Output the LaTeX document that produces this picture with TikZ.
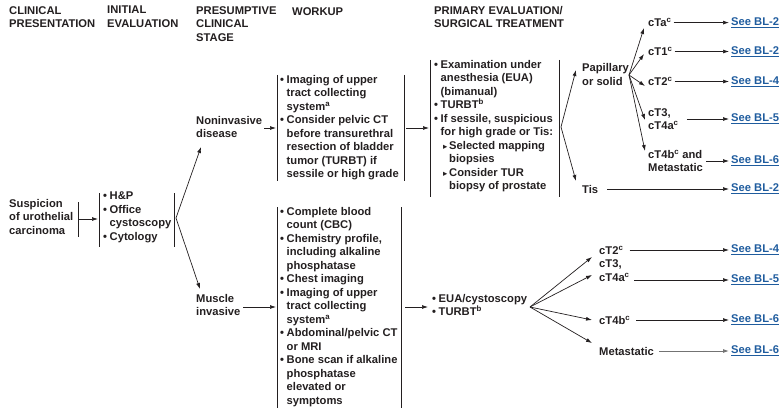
\documentclass[tikz,border=0pt]{standalone}
\usepackage{fontspec}
\setmainfont{Liberation Sans}
\newfontfamily\dejavu{DejaVu Sans}
\usetikzlibrary{arrows.meta}
\definecolor{ink}{HTML}{231F20}
\definecolor{lnk}{HTML}{1F5C9E}
\newcommand{\bu}{\makebox[6.5pt][l]{•}}
\newcommand{\ind}{\hspace*{6.5pt}}
\newcommand{\tri}{\hspace*{9pt}\makebox[6pt][l]{\raisebox{0.3pt}{\dejavu\fontsize{8.5}{8.5}\selectfont ▸}}}
\newcommand{\tind}{\hspace*{15pt}}
\newcommand{\lk}[1]{\underline{#1}}
\begin{document}
\begin{tikzpicture}[x=1pt,y=-1pt,
  font=\fontsize{11.2}{13.5}\selectfont\bfseries,
  every node/.style={text=ink},
  lbl/.style={anchor=north west, inner sep=0pt, align=left, execute at begin node=\strut},
  lw/.style={anchor=west, inner sep=0pt, align=left},
  seel/.style={anchor=west, inner sep=0pt, text=lnk},
  bar/.style={draw=ink, line width=0.8pt},
  arr/.style={draw=ink, line width=0.7pt, -{Latex[length=6pt,width=4pt]}},
  garr/.style={draw=black!55, line width=0.9pt, -{Latex[length=6pt,width=4pt]}}
]
\useasboundingbox (0,0) rectangle (780,412);

% headers
\node[lbl] (h1) at (9,6) {CLINICAL\\PRESENTATION};
\node[lbl] (h2) at (107,6) {INITIAL\\EVALUATION};
\node[lbl] (h3) at (196,6) {PRESUMPTIVE\\CLINICAL\\STAGE};
\node[lbl] (h4) at (292,6) {WORKUP};
\node[lbl] (h5) at (434,6) {PRIMARY EVALUATION/\\SURGICAL TREATMENT};

% left
\node[lbl] (susp) at (9,199) {Suspicion\\of urothelial\\carcinoma};
\draw[bar] (78,202) -- (78,237);
\coordinate (s-out) at (78,219);
\coordinate (init-in) at (98,219);
\draw[arr] (s-out) -- (init-in);
\draw[bar] (99,193) -- (99,247);
\node[lbl] (init) at (103,192) {\bu H\&P\\\bu Office\\\ind cystoscopy\\\bu Cytology};
\draw[bar] (174,193) -- (174,247);
\coordinate (br1) at (176,218);
\coordinate (nonin-in) at (201,147);
\coordinate (musc-in) at (200,289);
\draw[arr] (br1) -- (nonin-in);
\draw[arr] (br1) -- (musc-in);

% stages
\node[lbl] (nonin) at (196,116) {Noninvasive\\disease};
\node[lbl] (musc) at (196,294) {Muscle\\invasive};

% workup top
\coordinate (nonin-out) at (264,128);
\coordinate (wt-in) at (276,128);
\draw[arr] (nonin-out) -- (wt-in);
\draw[bar] (277,75) -- (277,181);
\node[lbl] (wtop) at (280,75) {\bu Imaging of upper\\\ind tract collecting\\\ind system\textsuperscript{a}\\\bu Consider pelvic CT\\\ind before transurethral\\\ind resection of bladder\\\ind tumor (TURBT) if\\\ind sessile or high grade};
\draw[bar] (404,75) -- (404,181);
\coordinate (wt-out) at (406,128);
\coordinate (pt-in) at (429,128);
\draw[arr] (wt-out) -- (pt-in);

% workup bottom
\coordinate (musc-out) at (243,307);
\coordinate (wb-in) at (276,307);
\draw[arr] (musc-out) -- (wb-in);
\draw[bar] (277,207) -- (277,408);
\node[lbl] (wbot) at (280,207) {\bu Complete blood\\\ind count (CBC)\\\bu Chemistry profile,\\\ind including alkaline\\\ind phosphatase\\\bu Chest imaging\\\bu Imaging of upper\\\ind tract collecting\\\ind system\textsuperscript{a}\\\bu Abdominal/pelvic CT\\\ind or MRI\\\bu Bone scan if alkaline\\\ind phosphatase\\\ind elevated or\\\ind symptoms};
\draw[bar] (401,207) -- (401,408);
\coordinate (wb-out) at (405,307);
\coordinate (eua-in) at (428,307);
\draw[arr] (wb-out) -- (eua-in);

% primary top
\draw[bar] (430,60) -- (430,197);
\node[lbl] (ptop) at (434,60) {\bu Examination under\\\ind anesthesia (EUA)\\\ind (bimanual)\\\bu TURBT\textsuperscript{b}\\\bu If sessile, suspicious\\\ind for high grade or Tis:\\\tri Selected mapping\\\tind biopsies\\\tri Consider TUR\\\tind biopsy of prostate};
\draw[bar] (559,60) -- (559,197);
\coordinate (br2) at (561,127);
\coordinate (pap-in) at (576,70);
\coordinate (tis-in) at (576,181);
\draw[arr] (br2) -- (pap-in);
\draw[arr] (br2) -- (tis-in);

\node[lbl] (pap) at (582,63.5) {Papillary\\or solid};
\node[lw] (tis) at (582,189) {Tis};

% cT nodes top
\node[lw] (cta) at (648,22.6) {cTa\textsuperscript{c}};
\node[lw] (ct1) at (648,51.5) {cT1\textsuperscript{c}};
\node[lw] (ct2) at (648,81.5) {cT2\textsuperscript{c}};
\node[lw] (ct3) at (648,119) {cT3,\\cT4a\textsuperscript{c}};
\node[lw] (ct4) at (648,161) {cT4b\textsuperscript{c} and\\Metastatic};

\coordinate (br3) at (629,75);
\coordinate (ta) at (644,28);
\coordinate (t1) at (644,54);
\coordinate (t2) at (645,86);
\coordinate (t3) at (645,120);
\coordinate (t4) at (645,151);
\foreach \t in {ta,t1,t2,t3,t4} \draw[arr] (br3) -- (\t);

\node[seel] (s1) at (731,22.6) {\lk{See BL-2}};
\node[seel] (s2) at (731,51.5) {\lk{See BL-2}};
\node[seel] (s3) at (731,81.5) {\lk{See BL-4}};
\node[seel] (s4) at (731,119) {\lk{See BL-5}};
\node[seel] (s5) at (731,161) {\lk{See BL-6}};
\node[seel] (s6) at (731,189) {\lk{See BL-2}};

\draw[arr] ([xshift=2pt]cta.east) -- ([xshift=-2pt]s1.west);
\draw[arr] ([xshift=2pt]ct1.east) -- ([xshift=-2pt]s2.west);
\draw[arr] ([xshift=2pt]ct2.east) -- ([xshift=-2pt]s3.west);
\draw[arr] ([xshift=8pt]ct3.east) -- ([xshift=-2pt]s4.west);
\draw[arr] ([xshift=3pt]ct4.east) -- ([xshift=-2pt]s5.west);
\draw[arr] ([xshift=9pt]tis.east) -- ([xshift=-2pt]s6.west);

% primary bottom
\node[lbl] (eua) at (432,294) {\bu EUA/cystoscopy\\\bu TURBT\textsuperscript{b}};
\coordinate (br4) at (530,307);
\coordinate (u1) at (592,257);
\coordinate (u2) at (592,275);
\coordinate (u3) at (592,320);
\coordinate (u4) at (592,343);
\foreach \t in {u1,u2,u3,u4} \draw[arr] (br4) -- (\t);

\node[lw] (bt2) at (599,250) {cT2\textsuperscript{c}};
\node[lbl] (bt3) at (599,259.5) {cT3,\\cT4a\textsuperscript{c}};
\node[lw] (bt4) at (599,320) {cT4b\textsuperscript{c}};
\node[lw] (bmet) at (599,351) {Metastatic};

\node[seel] (s7) at (731,250) {\lk{See BL-4}};
\node[seel] (s8) at (731,280) {\lk{See BL-5}};
\node[seel] (s9) at (731,320) {\lk{See BL-6}};
\node[seel] (s10) at (731,351) {\lk{See BL-6}};

\coordinate (bt3-out) at (634,280);
\draw[arr] ([xshift=6pt]bt2.east) -- ([xshift=-2pt]s7.west);
\draw[arr] (bt3-out) -- ([xshift=-2pt]s8.west);
\draw[arr] ([xshift=6pt]bt4.east) -- ([xshift=-2pt]s9.west);
\draw[garr] ([xshift=5pt]bmet.east) -- ([xshift=-2pt]s10.west);
\end{tikzpicture}
\end{document}
